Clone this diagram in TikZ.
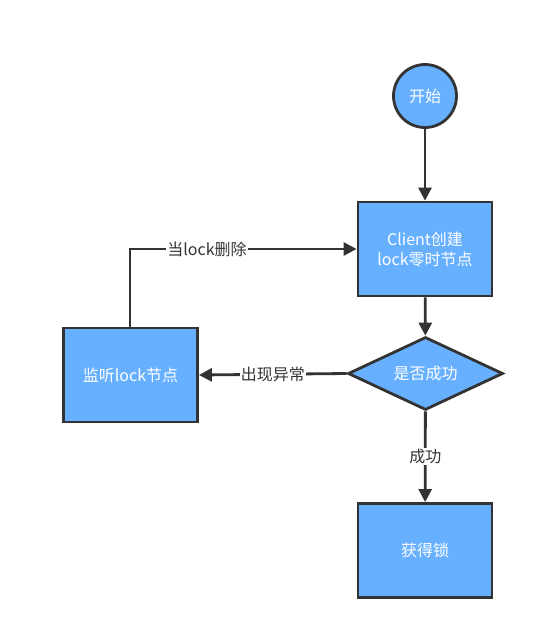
\documentclass[tikz,border=0pt]{standalone}
\usepackage{fontspec}
\setmainfont{Noto Sans CJK SC}
\usetikzlibrary{arrows.meta,shapes.geometric}
\definecolor{boxfill}{HTML}{66B0FF}
\definecolor{edge}{HTML}{333333}
\begin{document}
\begin{tikzpicture}[x=1pt,y=-1pt,
  every node/.style={font=\fontsize{16}{20}\selectfont},
  procbox/.style={draw=edge,line width=2.8pt,fill=boxfill,minimum width=134pt,minimum height=94pt,text=white,align=center,inner sep=0pt},
  startnode/.style={draw=edge,line width=2.8pt,fill=boxfill,circle,minimum size=63pt,text=white,inner sep=0pt},
  decision/.style={draw=edge,line width=2.8pt,fill=boxfill,diamond,aspect=2.12,minimum width=155pt,minimum height=73pt,text=white,inner sep=0pt},
  conn/.style={draw=edge,line width=2.8pt,-{Triangle[length=13pt,width=13pt]}},
  lbl/.style={fill=white,text=edge,inner sep=1pt}]
\useasboundingbox (0,0) rectangle (544,640);
\node[startnode] (start) at (425,96) {开始};
\node[procbox] (create) at (425,249) {Client创建\\lock零时节点};
\node[decision] (ok) at (425.5,373.5) {是否成功};
\node[procbox] (get) at (425,550.5) {获得锁};
\node[procbox] (watch) at (130.5,375) {监听lock节点};
\coordinate (corner) at (130,249);
\draw[conn] (start) -- (create);
\draw[conn] (create) -- (ok);
\draw[conn] (ok) -- node[lbl,pos=0.5] {成功} (get);
\draw[conn] (ok.west) -- node[lbl,pos=0.5] {出现异常} (watch.east);
\draw[conn] (watch.north -| corner) -- (corner) -- node[lbl,pos=0.34] {当lock删除} (create.west);
\end{tikzpicture}
\end{document}
